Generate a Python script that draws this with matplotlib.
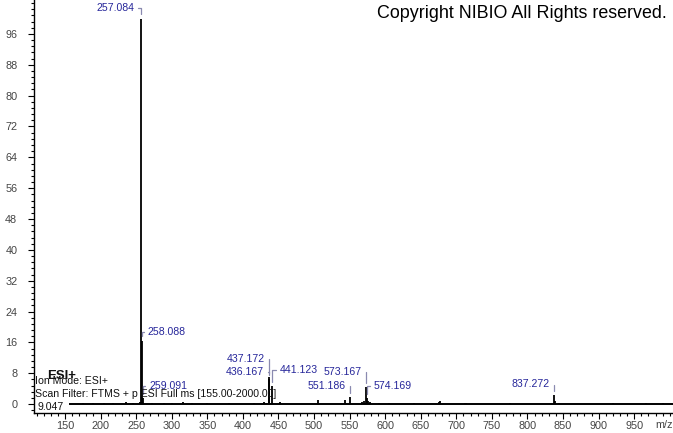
import matplotlib
matplotlib.use("Agg")
import matplotlib.pyplot as plt
from matplotlib.ticker import MultipleLocator

plt.rcParams['font.family'] = ['Liberation Sans', 'DejaVu Sans']

# ---- data ----
mz_values = [175.0, 190.0, 205.0, 218.0, 236.0, 245.0, 256.0, 257.084, 258.088, 259.091,
             272.0, 289.0, 301.0, 316.0, 328.0, 350.0, 380.0, 415.0, 430.0,
             436.167, 437.172, 441.123, 452.0, 505.0, 543.0, 551.186, 567.0, 570.0,
             573.167, 574.169, 576.0, 579.0, 591.0, 605.0, 640.0, 676.0, 677.5,
             712.0, 714.0, 775.0, 837.272, 838.275, 844.0, 920.0, 966.0, 990.0]
intensities = [0.3, 0.3, 0.3, 0.4, 0.6, 0.3, 0.5, 100.0, 16.5, 1.5,
               0.3, 0.3, 0.4, 0.5, 0.4, 0.3, 0.4, 0.4, 0.6,
               7.0, 6.6, 4.6, 0.5, 1.0, 1.0, 1.8, 0.6, 0.8,
               4.5, 1.6, 0.8, 0.5, 0.4, 0.4, 0.3, 0.5, 0.7,
               0.4, 0.4, 0.3, 2.3, 0.8, 0.3, 0.4, 0.3, 0.3]
scan_range = [155.0, 2000.0]

label_mz = [257.084, 258.088, 259.091, 437.172, 436.167, 441.123,
            551.186, 573.167, 574.169, 837.272]
label_text = ["257.084", "258.088", "259.091", "437.172", "436.167", "441.123",
              "551.186", "573.167", "574.169", "837.272"]
# style: text offsets (pixels) from peak top and side
label_offsets = [(-7, 11), (6, 9), (7, 12), (-4, 20), (-5, 5), (8, 16),
                 (-5, 11), (-4, 15), (7, 12), (-4, 11)]

x_ticks = list(range(150, 1000, 50))
y_ticks = list(range(0, 100, 8))

info_lines = ["Ion Mode: ESI+",
              "Scan Filter: FTMS + p ESI Full ms [155.00-2000.00]",
              "9.047"]

# ---- figure ----
W, H = 673, 433
fig = plt.figure(figsize=(W / 100, H / 100), dpi=100)
ax = fig.add_axes([34 / W, 20 / H, 639 / W, 413 / H])
ax.set_xlim(106.4, 1004.5)
ax.set_ylim(-2.3, 104.8)

# baseline of the spectrum
ax.plot(scan_range, [0, 0], color='black', lw=1.4, solid_capstyle='butt', zorder=2)
ax.vlines(mz_values, 0, intensities, color='black', lw=1.3, zorder=3)

label_color = '#26269a'
bracket_color = '#8a8ab0'
inten_map = dict(zip(mz_values, intensities))
for mz, txt, (dx, dy) in zip(label_mz, label_text, label_offsets):
    h = inten_map[mz]
    left = dx < 0
    ax.annotate(txt, xy=(mz, h), xytext=(dx, dy), textcoords='offset pixels',
                ha='right' if left else 'left', va='center',
                fontsize=7.6, color=label_color, zorder=5,
                arrowprops=dict(arrowstyle='-', color=bracket_color, lw=0.9,
                                shrinkA=1, shrinkB=3,
                                relpos=(1, 0.5) if left else (0, 0.5),
                                connectionstyle='angle,angleA=0,angleB=90,rad=0'))

# spines
for s in ['top', 'right']:
    ax.spines[s].set_visible(False)
ax.spines['left'].set_linewidth(1.0)
ax.spines['bottom'].set_linewidth(1.0)

ax.set_xticks(x_ticks)
ax.set_xticklabels([str(v) for v in x_ticks])
ax.set_yticks(y_ticks)
ax.set_yticklabels([str(v) for v in y_ticks])
ax.xaxis.set_minor_locator(MultipleLocator(10))
ax.yaxis.set_minor_locator(MultipleLocator(1.6))
ax.tick_params(axis='both', which='major', direction='out', length=4, width=0.8,
               labelsize=7.8, labelcolor='#444444', color='black')
ax.tick_params(axis='both', which='minor', direction='out', length=2.5, width=0.8,
               color='black')
ax.tick_params(axis='y', which='major', pad=8)
ax.tick_params(axis='x', which='major', pad=2)

# m/z label
fig.text(664 / W, 1 - 425 / H, "m/z", fontsize=7.8, color='#444444',
         ha='center', va='center')

# info text
fig.text(47 / W, 1 - 376 / H, "ESI+", fontsize=9.5, fontweight='bold',
         color='#111111', ha='left', va='center')
ys = [381, 394, 407]
for line, yy in zip(info_lines, ys):
    fig.text((35 if line != "9.047" else 38) / W, 1 - yy / H, line, fontsize=7.6,
             color='#111111', ha='left', va='center')

fig.text(667 / W, 1 - 14 / H, "Copyright NIBIO All Rights reserved.",
         fontsize=12.9, color='black', ha='right', va='center')

fig.savefig("out.png", dpi=100)
